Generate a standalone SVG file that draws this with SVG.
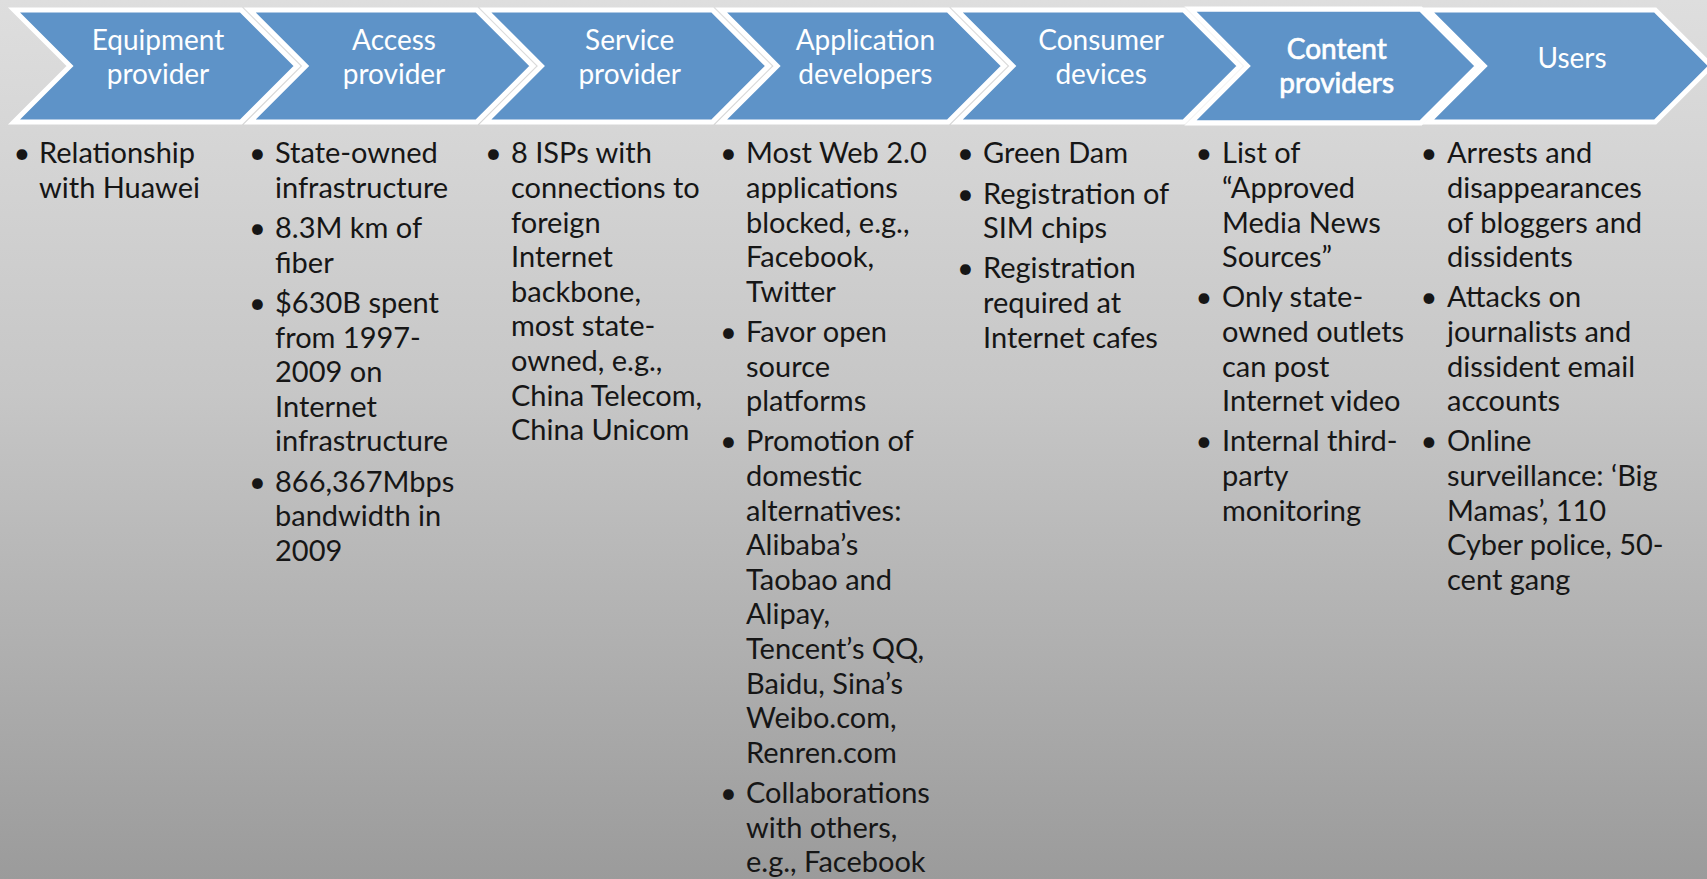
<svg xmlns="http://www.w3.org/2000/svg" width="1707" height="879" viewBox="0 0 1707 879">
<defs>
<linearGradient id="bg" x1="0" y1="0" x2="0" y2="1">
<stop offset="0" stop-color="#dedede"/>
<stop offset="0.45" stop-color="#c6c6c6"/>
<stop offset="1" stop-color="#9b9b9b"/>
</linearGradient>
<path id="chev" d="M0,10 H227 L283,66 L227,122 H0 L56,66 Z"/>
</defs>
<style>
.ch{fill:#5e93c8;stroke:#ffffff;stroke-width:5;stroke-linejoin:miter}
.hd{font-family:Lato,"Liberation Sans",sans-serif;font-size:28px;fill:#ffffff;text-anchor:middle}
.hdb{stroke:#ffffff;stroke-width:0.7}
.tx{font-family:Lato,"Liberation Sans",sans-serif;font-size:29px;fill:#161616}
.bl{font-family:Lato,"Liberation Sans",sans-serif;font-size:29px;fill:#161616;text-anchor:middle}
</style>
<rect x="0" y="0" width="1707" height="879" fill="url(#bg)"/>
<g id="connectors"></g>

<g id="node-equipment">
<use href="#chev" class="ch" x="14"/>
<text class="hd"><tspan x="158" y="50.3">Equipment</tspan><tspan x="158" y="83.7">provider</tspan></text>
<text class="bl"><tspan x="22" y="163">•</tspan></text>
<text class="tx"><tspan x="39" y="163.3">Relationship</tspan><tspan x="39" y="197.9">with Huawei</tspan></text>
</g>

<g id="node-access">
<use href="#chev" class="ch" x="249.7"/>
<text class="hd"><tspan x="394" y="50.3">Access</tspan><tspan x="394" y="83.7">provider</tspan></text>
<text class="bl"><tspan x="257.5" y="163.3">•</tspan><tspan x="257.5" y="238.1">•</tspan><tspan x="257.5" y="312.9">•</tspan><tspan x="257.5" y="491.5">•</tspan></text>
<text class="tx"><tspan x="275" y="163.3">State-owned</tspan><tspan x="275" y="197.9">infrastructure</tspan><tspan x="275" y="238.1">8.3M km of</tspan><tspan x="275" y="272.7">fiber</tspan><tspan x="275" y="312.9">$630B spent</tspan><tspan x="275" y="347.5">from 1997-</tspan><tspan x="275" y="382.1">2009 on</tspan><tspan x="275" y="416.7">Internet</tspan><tspan x="275" y="451.3">infrastructure</tspan><tspan x="275" y="491.5">866,367Mbps</tspan><tspan x="275" y="526.1">bandwidth in</tspan><tspan x="275" y="560.7">2009</tspan></text>
</g>

<g id="node-service">
<use href="#chev" class="ch" x="485.4"/>
<text class="hd"><tspan x="629.7" y="50.3">Service</tspan><tspan x="629.7" y="83.7">provider</tspan></text>
<text class="bl"><tspan x="493.5" y="163.3">•</tspan></text>
<text class="tx"><tspan x="511" y="163.3">8 ISPs with</tspan><tspan x="511" y="197.9">connections to</tspan><tspan x="511" y="232.5">foreign</tspan><tspan x="511" y="267.1">Internet</tspan><tspan x="511" y="301.7">backbone,</tspan><tspan x="511" y="336.3">most state-</tspan><tspan x="511" y="370.9">owned, e.g.,</tspan><tspan x="511" y="405.5">China Telecom,</tspan><tspan x="511" y="440.1">China Unicom</tspan></text>
</g>

<g id="node-application">
<use href="#chev" class="ch" x="721.1"/>
<text class="hd"><tspan x="865.4" y="50.3">Application</tspan><tspan x="865.4" y="83.7">developers</tspan></text>
<text class="bl"><tspan x="728.5" y="163.3">•</tspan><tspan x="728.5" y="341.9">•</tspan><tspan x="728.5" y="451.3">•</tspan><tspan x="728.5" y="802.9">•</tspan></text>
<text class="tx"><tspan x="746" y="163.3">Most Web 2.0</tspan><tspan x="746" y="197.9">applications</tspan><tspan x="746" y="232.5">blocked, e.g.,</tspan><tspan x="746" y="267.1">Facebook,</tspan><tspan x="746" y="301.7">Twitter</tspan><tspan x="746" y="341.9">Favor open</tspan><tspan x="746" y="376.5">source</tspan><tspan x="746" y="411.1">platforms</tspan><tspan x="746" y="451.3">Promotion of</tspan><tspan x="746" y="485.9">domestic</tspan><tspan x="746" y="520.5">alternatives:</tspan><tspan x="746" y="555.1">Alibaba’s</tspan><tspan x="746" y="589.7">Taobao and</tspan><tspan x="746" y="624.3">Alipay,</tspan><tspan x="746" y="658.9">Tencent’s QQ,</tspan><tspan x="746" y="693.5">Baidu, Sina’s</tspan><tspan x="746" y="728.1">Weibo.com,</tspan><tspan x="746" y="762.7">Renren.com</tspan><tspan x="746" y="802.9">Collaborations</tspan><tspan x="746" y="837.5">with others,</tspan><tspan x="746" y="872.1">e.g., Facebook</tspan></text>
</g>

<g id="node-consumer">
<use href="#chev" class="ch" x="956.8"/>
<text class="hd"><tspan x="1101.1" y="50.3">Consumer</tspan><tspan x="1101.1" y="83.7">devices</tspan></text>
<text class="bl"><tspan x="965.5" y="163.3">•</tspan><tspan x="965.5" y="203.5">•</tspan><tspan x="965.5" y="278.3">•</tspan></text>
<text class="tx"><tspan x="983" y="163.3">Green Dam</tspan><tspan x="983" y="203.5">Registration of</tspan><tspan x="983" y="238.1">SIM chips</tspan><tspan x="983" y="278.3">Registration</tspan><tspan x="983" y="312.9">required at</tspan><tspan x="983" y="347.5">Internet cafes</tspan></text>
</g>

<g id="node-content">
<g transform="translate(1334 66) scale(1.015) translate(-1334 -66)">
<use href="#chev" class="ch" x="1192.5"/>
</g>
<text class="hd hdb"><tspan x="1336.7" y="59.3">Content</tspan><tspan x="1336.7" y="92.7">providers</tspan></text>
<text class="bl"><tspan x="1204" y="163.3">•</tspan><tspan x="1204" y="307.3">•</tspan><tspan x="1204" y="451.3">•</tspan></text>
<text class="tx"><tspan x="1222" y="163.3">List of</tspan><tspan x="1222" y="197.9">“Approved</tspan><tspan x="1222" y="232.5">Media News</tspan><tspan x="1222" y="267.1">Sources”</tspan><tspan x="1222" y="307.3">Only state-</tspan><tspan x="1222" y="341.9">owned outlets</tspan><tspan x="1222" y="376.5">can post</tspan><tspan x="1222" y="411.1">Internet video</tspan><tspan x="1222" y="451.3">Internal third-</tspan><tspan x="1222" y="485.9">party</tspan><tspan x="1222" y="520.5">monitoring</tspan></text>
</g>

<g id="node-users">
<use href="#chev" class="ch" x="1428.2"/>
<text class="hd"><tspan x="1572" y="68">Users</tspan></text>
<text class="bl"><tspan x="1429" y="163.3">•</tspan><tspan x="1429" y="307.3">•</tspan><tspan x="1429" y="451.3">•</tspan></text>
<text class="tx"><tspan x="1447" y="163.3">Arrests and</tspan><tspan x="1447" y="197.9">disappearances</tspan><tspan x="1447" y="232.5">of bloggers and</tspan><tspan x="1447" y="267.1">dissidents</tspan><tspan x="1447" y="307.3">Attacks on</tspan><tspan x="1447" y="341.9">journalists and</tspan><tspan x="1447" y="376.5">dissident email</tspan><tspan x="1447" y="411.1">accounts</tspan><tspan x="1447" y="451.3">Online</tspan><tspan x="1447" y="485.9">surveillance: ‘Big</tspan><tspan x="1447" y="520.5">Mamas’, 110</tspan><tspan x="1447" y="555.1">Cyber police, 50-</tspan><tspan x="1447" y="589.7">cent gang</tspan></text>
</g>
</svg>
